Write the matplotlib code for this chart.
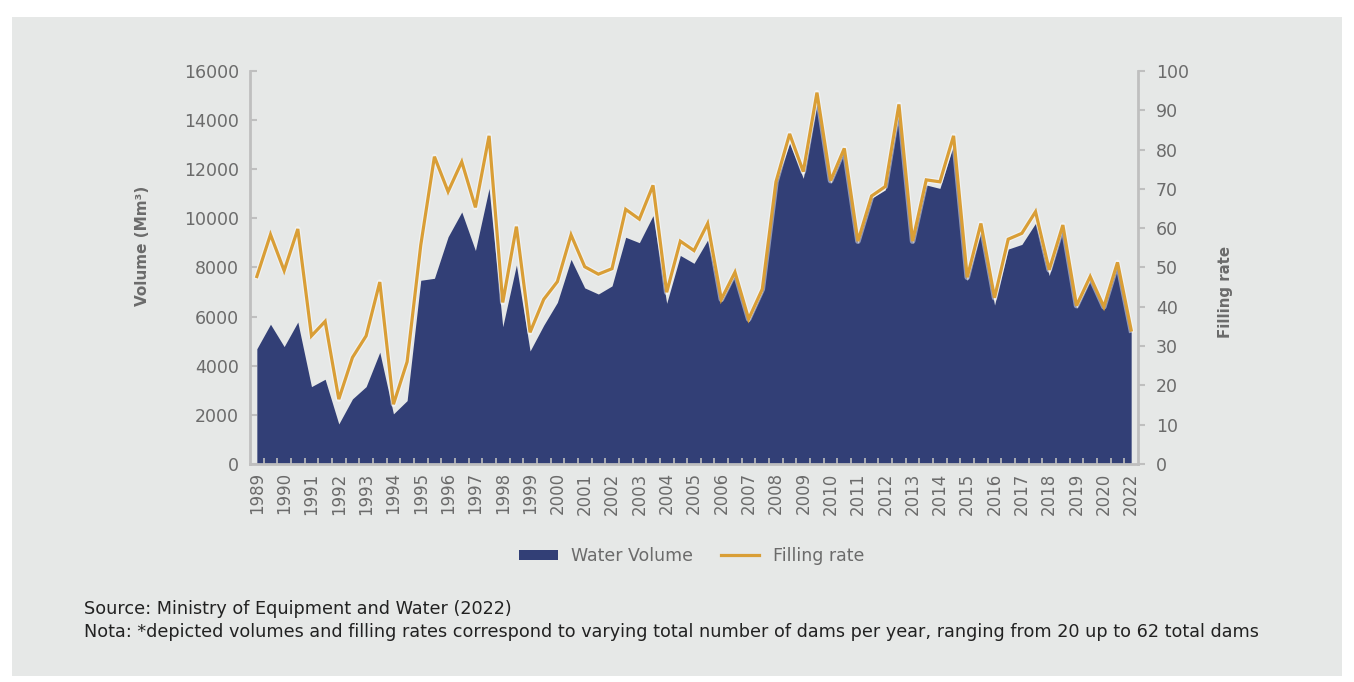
import matplotlib
matplotlib.use("Agg")
import matplotlib.pyplot as plt
import matplotlib.patheffects as pe
from matplotlib.patches import Patch, Rectangle
from matplotlib.lines import Line2D


# two readings per year, 1989 -> 2022
year_labels = ["1989", "1990", "1991", "1992", "1993", "1994", "1995", "1996",
               "1997", "1998", "1999", "2000", "2001", "2002", "2003", "2004",
               "2005", "2006", "2007", "2008", "2009", "2010", "2011", "2012",
               "2013", "2014", "2015", "2016", "2017", "2018", "2019", "2020",
               "2022"]

water_volume = [4690, 5690, 4780, 5780, 3150, 3450, 1630, 2650, 3150, 4550,
                2040, 2580, 7480, 7560, 9250, 10260, 8690, 11220, 5590, 8100,
                4600, 5650, 6580, 8330, 7170, 6920, 7250, 9230, 9010, 10110,
                6540, 8490, 8170, 9120, 6610, 7700, 5790, 7020, 11430, 13060,
                11630, 14680, 11430, 12780, 8990, 10820, 11160, 14280, 8990, 11360,
                11220, 12990, 7460, 9460, 6470, 8750, 8940, 9800, 7670, 9600,
                6340, 7490, 6340, 8100, 5390]

filling_rate = [47.7, 58.4, 49.2, 59.8, 32.6, 36.3, 16.5, 27.1, 32.6, 46.3,
                15.2, 26.0, 55.7, 78.2, 69.3, 76.9, 65.3, 83.5, 41.1, 60.4,
                33.5, 41.9, 46.4, 58.3, 50.2, 48.3, 49.7, 64.8, 62.3, 70.9,
                43.7, 56.7, 54.3, 61.2, 41.9, 48.8, 36.9, 44.5, 71.8, 84.0,
                74.4, 94.5, 72.1, 80.3, 56.7, 68.2, 70.6, 91.5, 56.7, 72.3,
                71.8, 83.5, 47.5, 61.2, 42.3, 57.2, 58.7, 64.2, 49.4, 60.8,
                40.3, 47.7, 40.0, 51.3, 34.1]

NAVY = "#323f76"
GOLD = "#d99e36"
PANEL = "#e6e8e7"
AXIS = "#bfbfbf"
TEXT = "#6b6b6b"
FONT = "DejaVu Sans"


def main():
    fig = plt.figure(figsize=(13.54, 6.82), dpi=100)
    fig.patch.set_facecolor("white")
    fig.patches.append(Rectangle((12 / 1354, 1 - 676 / 682), 1330 / 1354, 659 / 682,
                                 transform=fig.transFigure, facecolor=PANEL,
                                 edgecolor="none", zorder=-10))

    ax = fig.add_axes([250 / 1354, 1 - 464 / 682, 888 / 1354, 393 / 682])
    ax.set_facecolor("none")
    x = list(range(len(water_volume)))

    ax.fill_between(x, water_volume, 0, color=NAVY, lw=0)
    ax.set_xlim(-0.5, len(x) - 0.5)
    ax.set_ylim(0, 16000)
    ax.set_yticks(range(0, 16001, 2000))
    ax.set_xticks([i - 0.5 for i in range(1, len(x))], minor=True)
    ax.set_xticks(list(range(0, len(x), 2)))
    ax.set_xticklabels(year_labels, rotation=90, fontsize=12, color=TEXT, family=FONT)
    ax.tick_params(axis="x", which="major", length=0, pad=6)
    ax.tick_params(axis="x", which="minor", direction="in", length=4, color=AXIS, width=1.2)
    ax.tick_params(axis="y", direction="in", length=5, color=AXIS, width=1.5,
                   labelsize=12.5, labelcolor=TEXT, pad=8)
    for lab in ax.get_yticklabels():
        lab.set_family(FONT)
    ax.set_ylabel("Volume (Mm³)", fontsize=11, color=TEXT, fontweight="bold", family=FONT)
    ax.yaxis.set_label_coords(-0.113, 0.555)

    for s in ["top", "right"]:
        ax.spines[s].set_visible(False)
    for s in ["left", "bottom"]:
        ax.spines[s].set_color(AXIS)
        ax.spines[s].set_linewidth(2)

    ax2 = ax.twinx()
    ax2.plot(x, filling_rate, color=GOLD, lw=2.3, solid_joinstyle="miter",
             path_effects=[pe.Stroke(linewidth=4, foreground="white", alpha=0.45,
                                     joinstyle="round"), pe.Normal()])
    ax2.set_ylim(0, 100)
    ax2.set_yticks(range(0, 101, 10))
    ax2.tick_params(axis="y", direction="out", length=5, color=AXIS, width=1.5,
                    labelsize=12.5, labelcolor=TEXT, pad=8)
    for lab in ax2.get_yticklabels():
        lab.set_family(FONT)
    ax2.set_ylabel("Filling rate", fontsize=10.8, color=TEXT, fontweight="bold", family=FONT)
    ax2.yaxis.set_label_coords(1.09, 0.438)
    for s in ["top", "left", "bottom"]:
        ax2.spines[s].set_visible(False)
    ax2.spines["right"].set_color(AXIS)
    ax2.spines["right"].set_linewidth(2)

    handles = [Patch(facecolor=NAVY, edgecolor="none"), Line2D([0], [0], color=GOLD, lw=2.3)]
    leg = fig.legend(handles, ["Water Volume", "Filling rate"], loc="center",
                     bbox_to_anchor=(692 / 1354, 1 - 556 / 682), ncol=2, frameon=False,
                     handlelength=2.2, handleheight=0.55, columnspacing=1.6,
                     prop={"family": FONT, "size": 12.5})
    for t in leg.get_texts():
        t.set_color(TEXT)

    fig.text(84 / 1354, 1 - 609 / 682, "Source: Ministry of Equipment and Water (2022)",
             fontsize=12.7, color="#222222", family=FONT, va="center")
    fig.text(84 / 1354, 1 - 632 / 682,
             "Nota: *depicted volumes and filling rates correspond to varying total number "
             "of dams per year, ranging from 20 up to 62 total dams",
             fontsize=12.7, color="#222222", family=FONT, va="center")

    fig.savefig("out.png", dpi=100, facecolor=fig.get_facecolor())


if __name__ == "__main__":
    main()
